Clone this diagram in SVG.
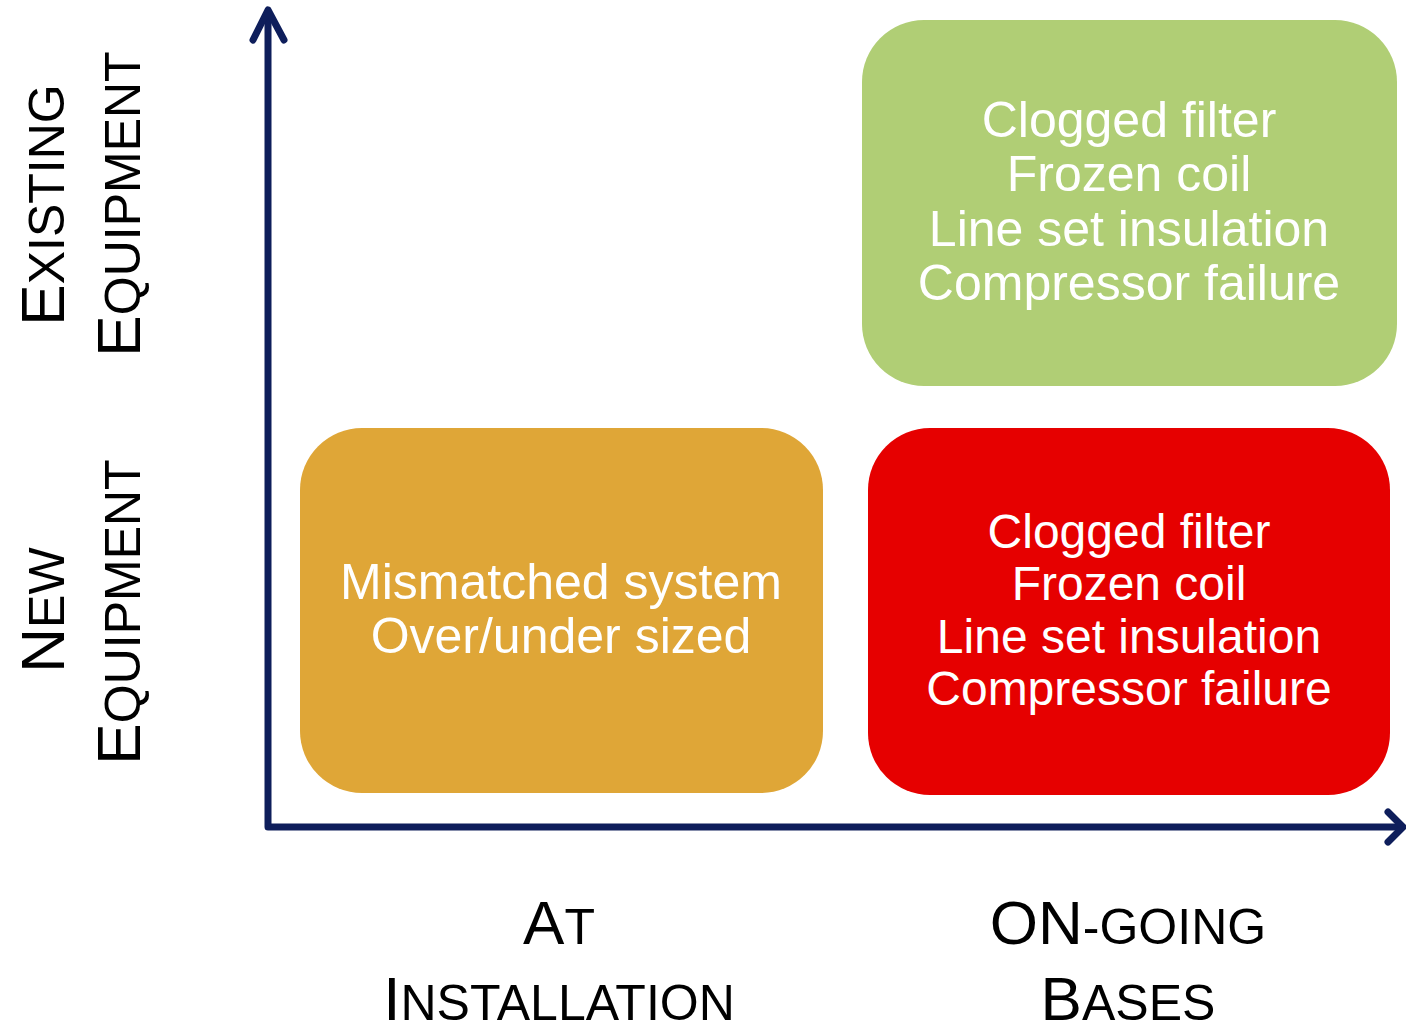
<svg xmlns="http://www.w3.org/2000/svg" width="1406" height="1025" viewBox="0 0 1406 1025">
<style>
text{font-family:"Liberation Sans",Arial,sans-serif}
.lbl{font-size:62px;fill:#000;text-anchor:middle}
.sc{font-size:50px}
.box-text{fill:#fff;text-anchor:middle}
.axis{stroke:#0E1E5B;stroke-width:7;fill:none;stroke-linecap:round;stroke-linejoin:round}
</style>
<rect width="1406" height="1025" fill="#fff"/>
<g id="connectors">
<path class="axis" d="M268 12 V827 H1401" stroke-linecap="butt"/>
<path class="axis" d="M253 40 L268 10 L284 40"/>
<path class="axis" d="M1388 812 L1403 827 L1388 842"/>
</g>
<g id="green-box">
<rect x="862" y="20" width="535" height="366" rx="62" fill="#B0CE75"/>
<text class="box-text" font-size="50" x="1129"><tspan x="1129" y="137">Clogged filter</tspan><tspan x="1129" y="191">Frozen coil</tspan><tspan x="1129" y="246">Line set insulation</tspan><tspan x="1129" y="300">Compressor failure</tspan></text>
</g>
<g id="orange-box">
<rect x="300" y="428" width="523" height="365" rx="62" fill="#DFA637"/>
<text class="box-text" font-size="50"><tspan x="561" y="599">Mismatched system</tspan><tspan x="561" y="653">Over/under sized</tspan></text>
</g>
<g id="red-box">
<rect x="868" y="428" width="522" height="367" rx="62" fill="#E60000"/>
<text class="box-text" font-size="48"><tspan x="1129" y="548">Clogged filter</tspan><tspan x="1129" y="600">Frozen coil</tspan><tspan x="1129" y="653">Line set insulation</tspan><tspan x="1129" y="705">Compressor failure</tspan></text>
</g>
<g id="label-existing">
<text class="lbl" transform="translate(64,205) rotate(-90)">E<tspan class="sc">XISTING</tspan></text>
<text class="lbl" transform="translate(140,204) rotate(-90)">E<tspan class="sc">QUIPMENT</tspan></text>
</g>
<g id="label-new">
<text class="lbl" transform="translate(64,610) rotate(-90)">N<tspan class="sc">EW</tspan></text>
<text class="lbl" transform="translate(140,612) rotate(-90)">E<tspan class="sc">QUIPMENT</tspan></text>
</g>
<g id="label-installation">
<text class="lbl" x="559" y="944">A<tspan class="sc">T</tspan></text>
<text class="lbl" x="559" y="1020">I<tspan class="sc">NSTALLATION</tspan></text>
</g>
<g id="label-ongoing">
<text class="lbl" x="1128" y="944">ON<tspan class="sc">-GOING</tspan></text>
<text class="lbl" x="1128" y="1020">B<tspan class="sc">ASES</tspan></text>
</g>
</svg>
